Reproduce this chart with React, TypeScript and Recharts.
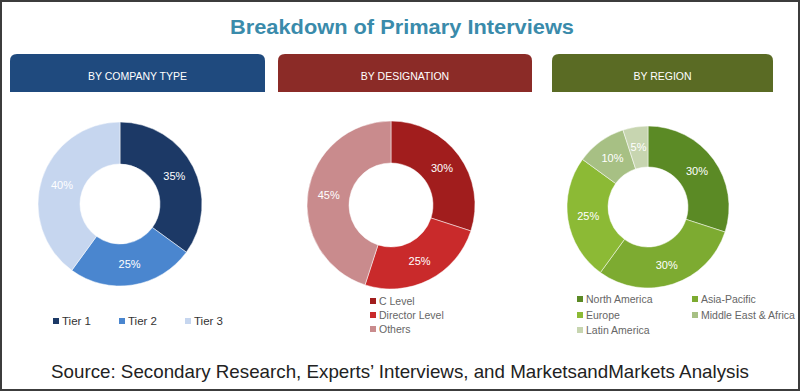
import React from "react"
import { PieChart, Pie, Cell } from "recharts"

// values (percent)
const companyTypes = ["Tier 1", "Tier 2", "Tier 3"]
const companyShares = [35, 25, 40]
const designations = ["C Level", "Director Level", "Others"]
const designationShares = [30, 25, 45]
const regions = ["North America", "Asia-Pacific", "Europe", "Middle East & Africa", "Latin America"]
const regionShares = [30, 30, 25, 10, 5]

const blueColors = ["#1c3966", "#4a86cf", "#c6d6ef"]
const redColors = ["#a11d1d", "#c92a2b", "#c98b8d"]
const greenColors = ["#5b8a25", "#7dab31", "#8cba35", "#a7c084", "#c7d5b0"]

const toData = (names: string[], values: number[]) =>
  names.map((name, i) => ({ name, value: values[i] }))

const companyData = toData(companyTypes, companyShares)
const designationData = toData(designations, designationShares)
const regionData = toData(regions, regionShares)

const RAD = Math.PI / 180

function makeLabel(fontFamily: string, fontSize: number) {
  return (props: any) => {
    const { cx, cy, midAngle, innerRadius, outerRadius, value } = props
    const r = (innerRadius + outerRadius) / 2
    const x = cx + r * Math.cos(-midAngle * RAD)
    const y = cy + r * Math.sin(-midAngle * RAD)
    return (
      <text
        x={x}
        y={y}
        fill="#ffffff"
        textAnchor="middle"
        dominantBaseline="central"
        fontFamily={fontFamily}
        fontSize={fontSize}
      >
        {value}%
      </text>
    )
  }
}

function Header({ x, w, color, text }: { x: number; w: number; color: string; text: string }) {
  const y = 54
  const h = 38
  const r = 7
  const d = `M${x},${y + h} L${x},${y + r} Q${x},${y} ${x + r},${y} L${x + w - r},${y} Q${x + w},${y} ${x + w},${y + r} L${x + w},${y + h} Z`
  return (
    <g>
      <path d={d} fill={color} />
      <text
        x={x + w / 2}
        y={80}
        fill="#ffffff"
        textAnchor="middle"
        fontSize={10.5}
        fontFamily="Liberation Sans, Arial, sans-serif"
      >
        {text}
      </text>
    </g>
  )
}

export default function App() {
  const legendFont = "Liberation Sans, Arial, sans-serif"
  const tierX = [53, 119, 185]
  const regionPos = [
    [577, 299],
    [692, 299],
    [577, 315],
    [692, 315],
    [577, 330],
  ]

  return (
    <div style={{ position: "absolute", left: 0, top: 0, width: 800, height: 391, background: "#fff" }}>
      <svg width={800} height={391} style={{ position: "absolute", left: 0, top: 0 }}>
        <rect x={1} y={1} width={798} height={389} fill="#ffffff" stroke="#3c3c3c" strokeWidth={2} />
        <text
          x={402}
          y={34}
          textAnchor="middle"
          fill="#3a8bab"
          fontSize={21}
          fontWeight="bold"
          fontFamily="Liberation Sans, Arial, sans-serif"
          textLength={344}
          lengthAdjust="spacingAndGlyphs"
        >
          Breakdown of Primary Interviews
        </text>

        <Header x={10} w={255} color="#1f4a7e" text="BY COMPANY TYPE" />
        <Header x={278} w={254} color="#8b2b27" text="BY DESIGNATION" />
        <Header x={552} w={221} color="#5a6b24" text="BY REGION" />

        {companyTypes.map((name, i) => (
          <g key={name}>
            <rect x={tierX[i]} y={318} width={6} height={6} fill={blueColors[i]} />
            <text x={tierX[i] + 9} y={325} fontSize={11.5} fill="#333333" fontFamily={legendFont}>
              {name}
            </text>
          </g>
        ))}

        {designations.map((name, i) => (
          <g key={name}>
            <rect x={370} y={298 + i * 14} width={6} height={6} fill={redColors[i]} />
            <text x={379} y={305 + i * 14} fontSize={10.5} fill="#666666" fontFamily={legendFont}>
              {name}
            </text>
          </g>
        ))}

        {regions.map((name, i) => (
          <g key={name}>
            <rect x={regionPos[i][0]} y={regionPos[i][1] - 3} width={6} height={6} fill={greenColors[i]} />
            <text
              x={regionPos[i][0] + 9}
              y={regionPos[i][1] + 4}
              fontSize={10.5}
              fill="#666666"
              fontFamily={legendFont}
            >
              {name}
            </text>
          </g>
        ))}

        <text
          x={51}
          y={378}
          fontSize={19}
          fill="#222222"
          fontFamily="Liberation Sans, Arial, sans-serif"
          textLength={698}
          lengthAdjust="spacingAndGlyphs"
        >
          Source: Secondary Research, Experts’ Interviews, and MarketsandMarkets Analysis
        </text>
      </svg>

      <div style={{ position: "absolute", left: 0, top: 0 }}>
        <PieChart width={800} height={391} margin={{ top: 0, right: 0, bottom: 0, left: 0 }}>
          <Pie
            data={companyData}
            dataKey="value"
            nameKey="name"
            cx={120}
            cy={204}
            innerRadius={40}
            outerRadius={82}
            startAngle={90}
            endAngle={-270}
            stroke="#ffffff"
            strokeWidth={0.5}
            labelLine={false}
            label={makeLabel("Liberation Sans, Arial, sans-serif", 11)}
            isAnimationActive={false}
          >
            {companyData.map((d, i) => (
              <Cell key={d.name} fill={blueColors[i]} />
            ))}
          </Pie>
          <Pie
            data={designationData}
            dataKey="value"
            nameKey="name"
            cx={391}
            cy={205}
            innerRadius={42}
            outerRadius={84}
            startAngle={90}
            endAngle={-270}
            stroke="#ffffff"
            strokeWidth={0.5}
            labelLine={false}
            label={makeLabel("Liberation Sans, Arial, sans-serif", 11)}
            isAnimationActive={false}
          >
            {designationData.map((d, i) => (
              <Cell key={d.name} fill={redColors[i]} />
            ))}
          </Pie>
          <Pie
            data={regionData}
            dataKey="value"
            nameKey="name"
            cx={648}
            cy={207}
            innerRadius={40}
            outerRadius={81}
            startAngle={90}
            endAngle={-270}
            stroke="#ffffff"
            strokeWidth={0.5}
            labelLine={false}
            label={makeLabel("Liberation Sans, Arial, sans-serif", 11)}
            isAnimationActive={false}
          >
            {regionData.map((d, i) => (
              <Cell key={d.name} fill={greenColors[i]} />
            ))}
          </Pie>
        </PieChart>
      </div>
    </div>
  )
}
